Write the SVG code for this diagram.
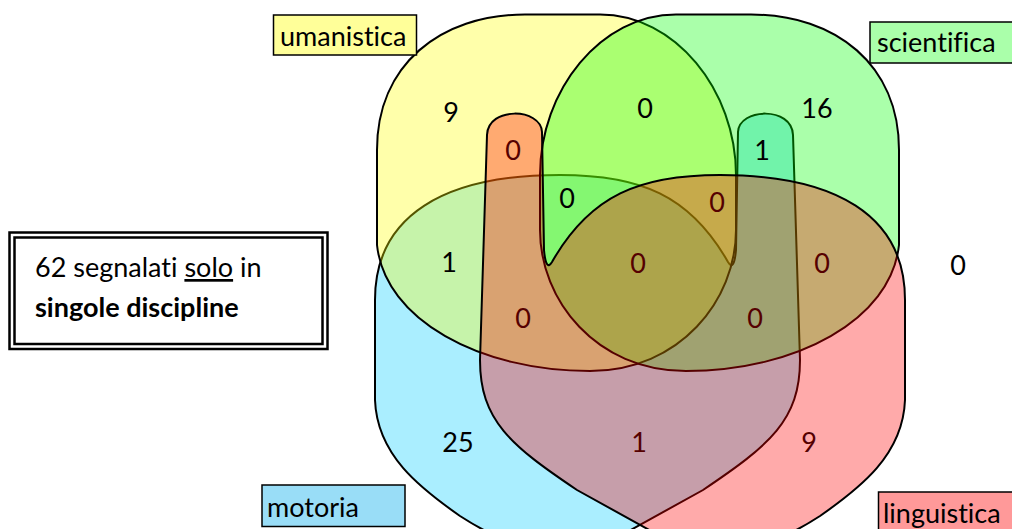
<svg xmlns="http://www.w3.org/2000/svg" width="1012" height="529" viewBox="0 0 1012 529">
<style>
.set{stroke:#000;stroke-width:2;fill-opacity:0.3333}
.lbl{stroke:#000;stroke-width:1.5}
text{font-family:Lato,"Open Sans",sans-serif;font-size:27px;font-variant-ligatures:none;font-feature-settings:"liga" 0,"clig" 0}
.n{text-anchor:middle;fill:#000}
.nr{text-anchor:middle;fill:#550000}
</style>
<rect width="1012" height="529" fill="#fff"/>
<g id="sets">
<g id="set-motoria"><path class="set" fill="#00ccff" d="M375,300 C375,215 445,175 560,175 C640,175 690,195 728,262 Q734,272 736,250 L738,132 C739,108 792,106 793,135 L800,360 C800,420 770,445 703,490 L600,547 C575,561 520,555 460,516 C420,488 377,455 375,400 Z"/></g>
<g id="set-umanistica"><path class="set" fill="#ffff00" d="M377,150 C377,65 440,14.5 525,14.5 L600,14.5 C675,14.5 736,90 736,175 L736,230 C736,300 680,371 590,371 C480,371 385,320 377,245 Z"/></g>
<g id="set-scientifica"><path class="set" fill="#00ff00" d="M899,150 C899,65 836,14.5 751,14.5 L676,14.5 C601,14.5 540,90 540,175 L540,230 C540,300 596,371 686,371 C796,371 891,320 899,245 Z"/></g>
<g id="set-linguistica"><path class="set" fill="#ff0000" d="M905,300 C905,215 835,175 720,175 C640,175 590,195 552,262 Q546,272 544,250 L542,132 C541,108 488,106 487,135 L480,360 C480,420 510,445 577,490 L680,547 C705,561 760,555 820,516 C860,488 903,455 905,400 Z"/></g>
</g>
<g id="counts">
<text class="n" x="451" y="122">9</text>
<text class="n" x="645" y="118">0</text>
<text class="n" x="817" y="118">16</text>
<text class="nr" x="513" y="160">0</text>
<text class="n" x="762" y="160">1</text>
<text class="n" x="567" y="208">0</text>
<text class="nr" x="717" y="212">0</text>
<text class="n" x="449" y="272">1</text>
<text class="nr" x="638" y="273">0</text>
<text class="nr" x="822" y="273">0</text>
<text class="n" x="958" y="275">0</text>
<text class="nr" x="523" y="328">0</text>
<text class="nr" x="755" y="328">0</text>
<text class="n" x="458" y="452">25</text>
<text class="nr" x="639" y="452">1</text>
<text class="nr" x="809" y="452">9</text>
</g>
<g id="label-umanistica"><rect class="lbl" x="273.5" y="15" width="143" height="40" fill="#ffff99"/><text x="280" y="46">umanistica</text></g>
<g id="label-scientifica"><rect class="lbl" x="870" y="22" width="150" height="41" fill="#aaffaa"/><text x="877" y="52">scientifica</text></g>
<g id="label-motoria"><rect class="lbl" x="262" y="485" width="143" height="41.5" fill="#99ddf7"/><text x="267" y="517">motoria</text></g>
<g id="label-linguistica"><rect class="lbl" x="878.5" y="492" width="145" height="45" fill="#ff9999"/><text x="883" y="523">linguistica</text></g>
<g id="note">
<rect x="9.5" y="232.5" width="318" height="116.5" fill="#fff" stroke="#000" stroke-width="2.5"/>
<rect x="14.5" y="237.5" width="308" height="106.5" fill="none" stroke="#000" stroke-width="2.5"/>
<text x="35" y="277">62 segnalati <tspan style="text-decoration:underline">solo</tspan> in</text>
<text x="35" y="317" font-weight="bold">singole discipline</text>
</g>
</svg>
